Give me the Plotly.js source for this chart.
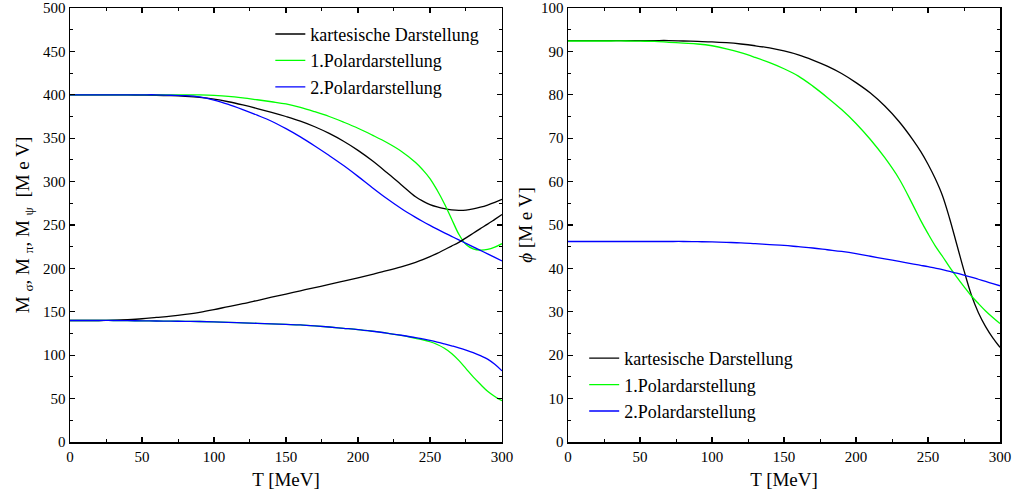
<!DOCTYPE html>
<html>
<head>
<meta charset="utf-8">
<script src="https://cdn.plot.ly/plotly-3.0.1.min.js"></script>
<style>
body{margin:0;background:#fff}
#chart{width:1027px;height:497px}
#chart text{font-family:'Liberation Serif','DejaVu Serif',serif !important}
</style>
</head>
<body>
<div id="chart"></div>
<script>
// Temperature grid [MeV]
const T = [0,10,20,30,40,50,60,70,80,90,100,110,120,130,140,150,160,170,180,190,200,210,220,230,240,245,250,255,260,265,270,275,280,285,290,295,300];

// Left panel: masses [MeV]
const sigmaKart = [400,400,400,400,399.8,399.7,399.5,399,398.2,397,395,392,388.3,384.2,379.8,375,369.7,363.2,355.5,346.5,336,324,310.5,296.5,282.5,277.5,273.5,270.8,268.8,267.5,266.9,267.2,268.5,270.5,273,276,279.5];
const sigmaPol1 = [400,400,400,400,400,400,400,400,400,399.8,399.3,398.3,396.5,394.3,392,389.5,385.5,380.5,375,368.5,361.5,353.5,345,335,322,313.5,303.5,290,274.5,257,239.5,227.5,222.5,221,221.8,224.5,228.5];
const sigmaPol2 = [400,400,400,400,400,400,400,399.5,399,397.5,394,389,383,376.5,369.5,361,351.5,341,330,318.5,306,293,280.5,269,258.8,254,249.5,245.2,241,236.9,232.8,228.8,224.8,220.8,216.8,212.7,208.7];
const piKart    = [140,140,140,140.3,141,142,143.5,145,147,149.4,152.5,156,159.3,163,166.8,170.5,174.2,177.9,181.5,185.3,189.2,193.2,197.3,201.8,207,210,213.5,217.3,221.5,225.7,230,235.2,240.5,245.8,251,256.5,262];
const piPol1    = [140,140,140,140,139.8,139.6,139.4,139.2,139,138.8,138.4,137.9,137.3,136.7,136.1,135.5,134.9,133.8,132.5,131,129.5,127.6,125.5,122.8,119.5,117.8,115.5,112.3,108,102,94,84.5,75,66.5,58.5,52.5,47.5];
const piPol2    = [140,140,140,140,139.8,139.6,139.4,139.2,139,138.8,138.4,137.9,137.3,136.7,136.1,135.5,134.9,133.8,132.5,131,129.5,127.6,125.5,123,120.3,118.7,117,115.1,113,110.8,108.5,105.9,103,99.5,95.5,89.5,82];

// Right panel: condensate phi [MeV]
const phiKart = [92.5,92.5,92.5,92.5,92.5,92.5,92.5,92.5,92.4,92.3,92.2,92,91.7,91.3,90.8,90.1,89.2,88,86.6,84.9,82.8,80.4,77.4,73.8,69.4,66.9,64,60.7,56.8,51.5,45.5,39.5,34,29.8,26.6,24,21.8];
const phiPol1 = [92.4,92.4,92.4,92.4,92.4,92.35,92.3,92.1,91.9,91.7,91.3,90.6,89.7,88.6,87.4,86,84.3,82,79.4,76.6,73.4,69.7,65.5,60.6,54.3,51,48,45.2,42.8,40.3,38,35.8,33.7,31.9,30.2,28.7,27.3];
const phiPol2 = [46.2,46.2,46.2,46.2,46.2,46.2,46.2,46.2,46.2,46.15,46.1,46,45.9,45.7,45.5,45.3,45,44.7,44.3,43.9,43.4,42.8,42.2,41.6,41,40.7,40.4,40.05,39.7,39.3,38.9,38.45,38,37.5,37,36.5,36];

const names = ["kartesische Darstellung","1.Polardarstellung","2.Polardarstellung"];
const colors = ["#000000","#00ff00","#0000ff"];

function tr(y, i, xa, ya, show, leg) {
  return {x: T, y: y, type: 'scatter', mode: 'lines', name: names[i],
    line: {color: colors[i], width: 1.3, shape: 'spline', smoothing: 1},
    xaxis: xa, yaxis: ya, showlegend: show, legend: leg, legendgroup: leg + i};
}

const data = [
  tr(sigmaKart, 0, 'x', 'y', true, 'legend'),
  tr(sigmaPol1, 1, 'x', 'y', true, 'legend'),
  tr(sigmaPol2, 2, 'x', 'y', true, 'legend'),
  tr(piKart, 0, 'x', 'y', false, 'legend'),
  tr(piPol1, 1, 'x', 'y', false, 'legend'),
  tr(piPol2, 2, 'x', 'y', false, 'legend'),
  tr(phiKart, 0, 'x2', 'y2', true, 'legend2'),
  tr(phiPol1, 1, 'x2', 'y2', true, 'legend2'),
  tr(phiPol2, 2, 'x2', 'y2', true, 'legend2')
];

const FAM = 'Liberation Serif';
function f(size) { return {family: FAM, size: size, color: '#000'}; }
function minor(dt) { return {ticks: 'inside', ticklen: 3, tickwidth: 1, tickcolor: '#000', dtick: dt, showgrid: false}; }
function ax(extra) {
  return Object.assign({
    showline: true, linecolor: '#000', linewidth: 1.5, mirror: 'ticks',
    ticks: 'inside', ticklen: 5, tickwidth: 1.2, tickcolor: '#000',
    showgrid: false, zeroline: false, ticklabeloverflow: 'allow',
    tickfont: f(15)
  }, extra);
}

const layout = {
  width: 1027, height: 497,
  margin: {l: 70, r: 27, t: 8, b: 55},
  paper_bgcolor: '#fff', plot_bgcolor: '#fff',
  font: f(15),
  xaxis: ax({domain: [0, 0.4645], range: [0, 300], dtick: 50, tick0: 0, anchor: 'y', minor: minor(25),
    title: {text: 'T [MeV]', font: f(19), standoff: 9}}),
  yaxis: ax({range: [0, 500], dtick: 50, tick0: 0, anchor: 'x', minor: minor(25),
    title: {text: 'M <sub>σ</sub>, M <sub>π</sub>, M <sub>ψ</sub>  [M e V]', font: f(19), standoff: 8}}),
  xaxis2: ax({domain: [0.5355, 1], range: [0, 300], dtick: 50, tick0: 0, anchor: 'y2', minor: minor(25),
    title: {text: 'T [MeV]', font: f(19), standoff: 9}}),
  yaxis2: ax({range: [0, 100], dtick: 10, tick0: 0, anchor: 'x2', minor: minor(5),
    title: {text: '<i>ϕ</i> [M e V]', font: f(19), standoff: 3}}),
  legend: {x: 0.2154, y: 0.982, xanchor: 'left', yanchor: 'top', bgcolor: 'rgba(0,0,0,0)',
    font: f(18), tracegroupgap: 0},
  legend2: {x: 0.5529, y: 0.235, xanchor: 'left', yanchor: 'top', bgcolor: 'rgba(0,0,0,0)',
    font: f(18), tracegroupgap: 0}
};

Plotly.newPlot('chart', data, layout, {displayModeBar: false, staticPlot: true});
</script>
</body>
</html>
